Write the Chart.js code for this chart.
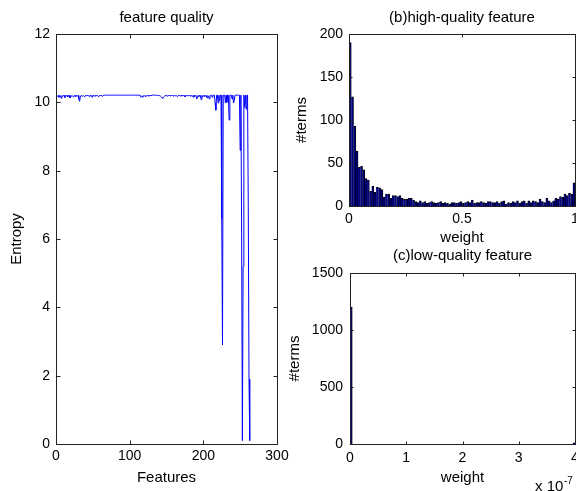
<!DOCTYPE html>
<html>
<head>
<meta charset="utf-8">
<script src="https://cdn.jsdelivr.net/npm/chart.js@4"></script>
<style>
  html, body { margin: 0; padding: 0; background: #fff; overflow: hidden; width: 576px; height: 491px; }
  canvas { position: absolute; left: 0; top: 0; }
</style>
</head>
<body>
<canvas id="quality" width="600" height="491"></canvas>
<canvas id="high" width="600" height="491"></canvas>
<canvas id="low" width="600" height="491"></canvas>
<script>
// entropy of each feature (features 1..263)
const entropy = [
  10.2, 10.18, 10.2, 10.15, 10.2, 10.19, 10.12, 10.2, 10.17, 10.2, 10.2, 10.14, 10.2, 10.19, 10.2, 10.16, 10.2, 10.2, 10.13, 10.2,
  10.18, 10.2, 10.2, 10.15, 10.2, 10.2, 10.17, 10.2, 10.19, 10.2, 10.1, 10.03, 10.15, 10.2, 10.2, 10.18, 10.2, 10.2, 10.16, 10.2,
  10.2, 10.19, 10.2, 10.2, 10.17, 10.2, 10.2, 10.2, 10.15, 10.2, 10.2, 10.19, 10.2, 10.18, 10.2, 10.2, 10.2, 10.16, 10.2, 10.2,
  10.2, 10.2, 10.17, 10.2, 10.21, 10.21, 10.21, 10.21, 10.21, 10.21, 10.21, 10.21, 10.21, 10.21, 10.21, 10.21, 10.21, 10.21, 10.21, 10.21,
  10.21, 10.21, 10.21, 10.21, 10.21, 10.21, 10.21, 10.21, 10.21, 10.21, 10.21, 10.21, 10.21, 10.21, 10.21, 10.21, 10.21, 10.21, 10.21, 10.21,
  10.21, 10.21, 10.21, 10.21, 10.21, 10.21, 10.21, 10.21, 10.21, 10.21, 10.21, 10.21, 10.21, 10.19, 10.16, 10.18, 10.15, 10.2, 10.18, 10.2,
  10.17, 10.2, 10.19, 10.2, 10.2, 10.18, 10.2, 10.2, 10.2, 10.2, 10.21, 10.21, 10.21, 10.21, 10.21, 10.21, 10.21, 10.2, 10.2, 10.2,
  10.2, 10.18, 10.16, 10.13, 10.12, 10.15, 10.17, 10.2, 10.19, 10.2, 10.18, 10.2, 10.2, 10.2, 10.19, 10.2, 10.2, 10.2, 10.18, 10.2,
  10.2, 10.19, 10.2, 10.2, 10.17, 10.2, 10.2, 10.2, 10.19, 10.2, 10.18, 10.2, 10.2, 10.2, 10.16, 10.2, 10.2, 10.19, 10.2, 10.2,
  10.2, 10.18, 10.2, 10.2, 10.17, 10.2, 10.15, 10.2, 10.19, 10.2, 10.1, 10.12, 10.2, 10.17, 10.2, 10.2, 10.08, 10.2, 10.15, 10.2,
  10.2, 10.17, 10.2, 10.2, 10.13, 10.2, 10.18, 10.1, 10.2, 10.19, 10.21, 10.15, 10.21, 10.21, 10.21, 9.98, 9.77, 10.21, 10.21, 9.98,
  10.21, 10.05, 10.21, 10.21, 6.6, 2.9, 10.21, 10.21, 10.21, 9.98, 10.21, 10.0, 10.21, 10.21, 9.48, 10.21, 10.21, 10.21, 10.1, 10.21,
  9.98, 10.05, 10.21, 10.21, 10.21, 10.21, 10.21, 10.21, 10.21, 8.6, 10.21, 6.15, 0.1, 5.2, 10.21, 9.85, 10.21, 9.8, 10.21, 10.21,
  6.95, 1.9, 0.1
];
const featureIds = entropy.map((v, i) => i + 1);

// (b) histogram of term weights, 100 bins over [0, 1]
const highCounts = [
  190, 127, 93, 64, 45, 46, 42, 32, 30, 17, 23, 16, 22, 21, 19, 10, 14, 14, 9, 12,
  12, 11, 12, 9, 8, 8, 9, 9, 7, 5, 4, 6, 4, 5, 3, 4, 5, 4, 3, 4,
  5, 3, 4, 3, 2, 4, 4, 3, 4, 5, 3, 4, 5, 4, 7, 3, 4, 4, 5, 4,
  3, 5, 5, 4, 4, 5, 3, 5, 6, 2, 4, 3, 5, 4, 6, 3, 5, 6, 3, 6,
  4, 6, 5, 4, 8, 5, 4, 9, 6, 4, 6, 9, 8, 11, 10, 14, 12, 15, 14, 27
];
const highRange = [0, 1];
const highTicks = { x: 0.5, y: 50, yMax: 200 };

// (c) histogram of term weights, 100 bins over [0, 4] x 1e-7
const lowCounts = [
  1200, 0, 0, 0, 0, 0, 0, 0, 0, 0, 0, 0, 0, 0, 0, 0, 0, 0, 0, 0,
  0, 0, 0, 0, 0, 0, 0, 0, 0, 0, 0, 0, 0, 0, 0, 0, 0, 0, 0, 0,
  0, 0, 0, 0, 0, 0, 0, 0, 0, 0, 0, 0, 0, 0, 0, 0, 0, 0, 0, 0,
  0, 0, 0, 0, 0, 0, 0, 0, 0, 0, 0, 0, 0, 0, 0, 0, 0, 0, 0, 0,
  0, 0, 0, 0, 0, 0, 0, 0, 0, 0, 0, 0, 0, 0, 0, 0, 0, 0, 0, 10
];
const lowRange = [0, 4];
const lowTicks = { x: 1, y: 500, yMax: 1500 };

Chart.defaults.font.family = '"Liberation Sans", Arial, sans-serif';
Chart.defaults.color = '#000';

// matlab style box with inward ticks on every side
const boxPlugin = {
  id: 'box',
  afterDatasetsDraw(chart, args, opts) {
    const { ctx, chartArea: a, scales: { x, y } } = chart;
    const len = opts.tickLen || 4;
    const L = Math.round(a.left) + 0.5, R = Math.round(a.right) + 0.5;
    const T = Math.round(a.top) + 0.5, B = Math.round(a.bottom) + 0.5;
    ctx.save();
    ctx.strokeStyle = '#222';
    ctx.lineWidth = 1;
    ctx.beginPath();
    x.ticks.forEach(t => {
      const px = Math.round(x.getPixelForValue(t.value)) + 0.5;
      ctx.moveTo(px, B); ctx.lineTo(px, B - len);
      ctx.moveTo(px, T); ctx.lineTo(px, T + len);
    });
    y.ticks.forEach(t => {
      const py = Math.round(y.getPixelForValue(t.value)) + 0.5;
      ctx.moveTo(L, py); ctx.lineTo(L + len, py);
      ctx.moveTo(R, py); ctx.lineTo(R - len, py);
    });
    ctx.stroke();
    ctx.strokeRect(L, T, R - L, B - T);
    ctx.restore();
  }
};

// "x 10^-7" multiplier under the right end of the axis
const expPlugin = {
  id: 'exponent',
  afterDraw(chart) {
    const { ctx, chartArea: a } = chart;
    ctx.save();
    ctx.fillStyle = '#000';
    ctx.textBaseline = 'middle';
    ctx.font = '15px "Liberation Sans", Arial, sans-serif';
    ctx.fillText('x 10', a.right - 40, 487);
    ctx.font = '10px "Liberation Sans", Arial, sans-serif';
    ctx.fillText('-7', a.right - 11, 481);
    ctx.restore();
  }
};

const plainNumber = v => String(v);

function axisTitle(text, pad) {
  return { display: true, text: text, font: { size: 15 }, padding: pad };
}

function baseOptions(title, titlePad, padding, tickLen) {
  return {
    responsive: false,
    animation: false,
    devicePixelRatio: 1,
    layout: { padding: padding },
    plugins: {
      legend: { display: false },
      tooltip: { enabled: false },
      title: { display: true, text: title, fullSize: false, font: { size: 15, weight: 'normal' }, padding: titlePad },
      box: { tickLen: tickLen }
    }
  };
}

function histogram(canvasId, counts, range, ticks, title, titlePad, padding, sizes) {
  const binW = (range[1] - range[0]) / counts.length;
  const opts = baseOptions(title, titlePad, padding, 3);
  opts.scales = {
    x: {
      type: 'linear', offset: false, min: range[0], max: range[1],
      grid: { display: false, drawTicks: false }, border: { display: false },
      ticks: { stepSize: ticks.x, padding: sizes.xPad, font: { size: 14 }, maxRotation: 0, callback: plainNumber },
      title: axisTitle('weight', { top: 0, bottom: sizes.xTitle }),
      afterFit: s => { s.height = sizes.xH; }
    },
    y: {
      min: 0, max: ticks.yMax,
      grid: { display: false, drawTicks: false }, border: { display: false },
      ticks: { stepSize: ticks.y, padding: sizes.yPad, font: { size: 14 }, callback: plainNumber },
      title: axisTitle('#terms', { top: sizes.yTitle, bottom: 0 }),
      afterFit: s => { s.width = sizes.yW; }
    }
  };
  return new Chart(document.getElementById(canvasId), {
    type: 'bar',
    data: {
      datasets: [{
        data: counts.map((c, i) => ({ x: range[0] + (i + 0.5) * binW, y: c })),
        backgroundColor: '#00007f',
        borderColor: '#000',
        borderWidth: { left: 0, right: 0.8, top: 1, bottom: 0 },
        barPercentage: 1,
        categoryPercentage: 1
      }]
    },
    options: opts,
    plugins: sizes.extra ? [boxPlugin, sizes.extra] : [boxPlugin]
  });
}

// (a) feature quality line
const qOpts = baseOptions('feature quality', { top: 9, bottom: 7 }, { left: 0, top: 0, right: 323, bottom: 0 }, 4);
qOpts.scales = {
  x: {
    type: 'linear', min: 0, max: 300,
    grid: { display: false, drawTicks: false }, border: { display: false },
    ticks: { stepSize: 100, padding: 4, font: { size: 14 }, maxRotation: 0, callback: plainNumber },
    title: axisTitle('Features', { top: 0, bottom: 4 }),
    afterFit: s => { s.height = 47; }
  },
  y: {
    min: 0, max: 12,
    grid: { display: false, drawTicks: false }, border: { display: false },
    ticks: { stepSize: 2, padding: 6, font: { size: 14 }, callback: plainNumber },
    title: axisTitle('Entropy', { top: 8, bottom: 0 }),
    afterFit: s => { s.width = 56; }
  }
};
new Chart(document.getElementById('quality'), {
  type: 'line',
  data: {
    labels: featureIds,
    datasets: [{
      data: entropy,
      borderColor: '#0000ff',
      borderWidth: 1,
      pointRadius: 0,
      tension: 0,
      fill: false
    }]
  },
  options: qOpts,
  plugins: [boxPlugin]
});

histogram('high', highCounts, highRange, highTicks, '(b)high-quality feature',
  { top: 9, bottom: 7 }, { left: 290, top: 0, right: 25, bottom: 241 },
  { xPad: 5, xTitle: 3, xH: 44, yPad: 6, yTitle: 3, yW: 59 });

histogram('low', lowCounts, lowRange, lowTicks, '(c)low-quality feature',
  { top: 7, bottom: 8 }, { left: 285, top: 240, right: 25, bottom: 0 },
  { xPad: 6, xTitle: 4, xH: 47, yPad: 7, yTitle: 1, yW: 65, extra: expPlugin });
</script>
</body>
</html>
